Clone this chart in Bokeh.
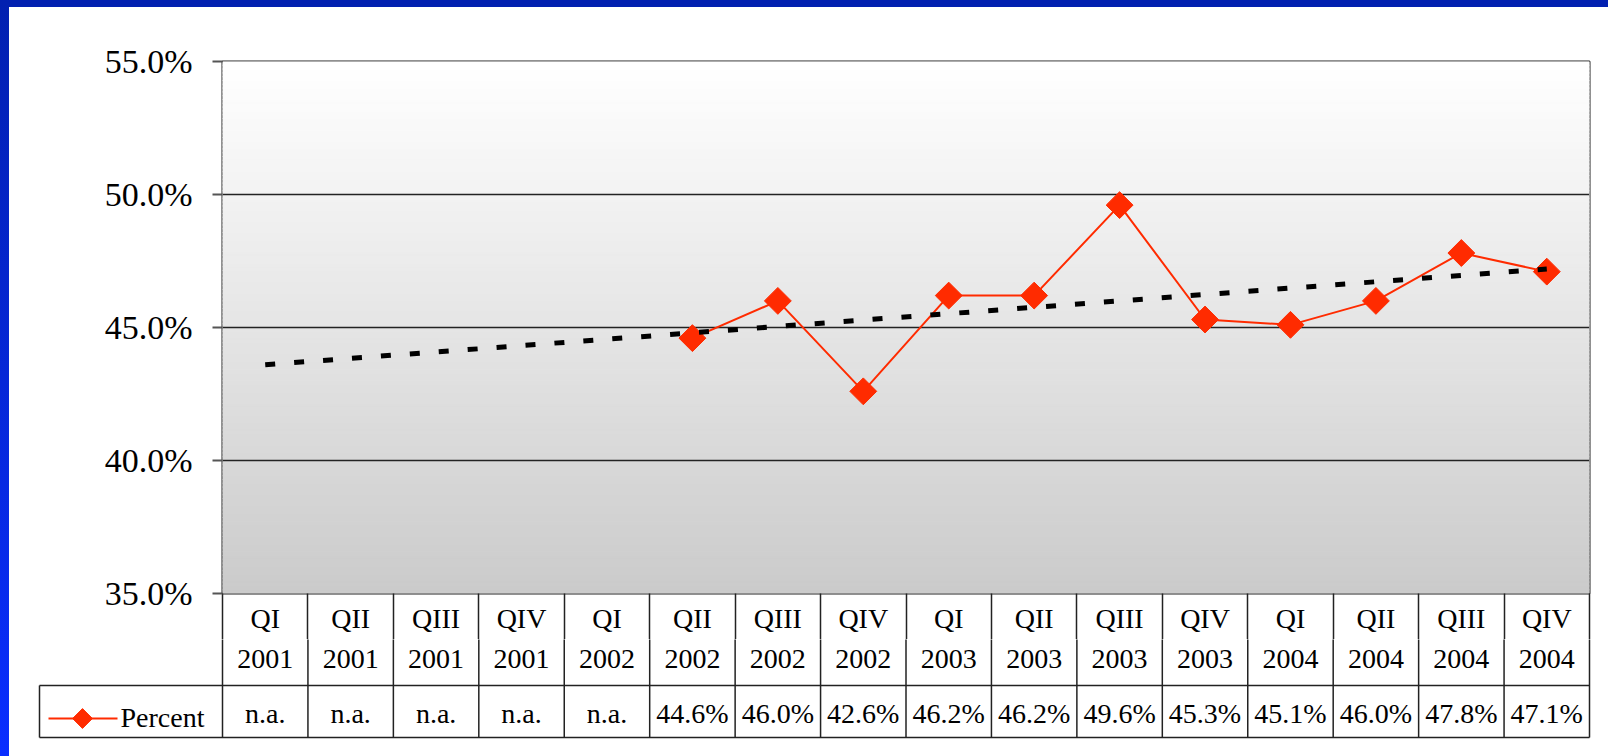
import numpy as np
from bokeh.plotting import figure
from bokeh.models import Range1d, PrintfTickFormatter, FixedTicker, Div
from bokeh.layouts import row, column
from bokeh.embed import file_html
from bokeh.resources import INLINE
from bokeh.core.properties import value

# ---------------- data ----------------
quarters = ["QI", "QII", "QIII", "QIV", "QI", "QII", "QIII", "QIV",
            "QI", "QII", "QIII", "QIV", "QI", "QII", "QIII", "QIV"]
years = ["2001", "2001", "2001", "2001", "2002", "2002", "2002", "2002",
         "2003", "2003", "2003", "2003", "2004", "2004", "2004", "2004"]
categories = [f"{q} {y}" for q, y in zip(quarters, years)]
nan = float("nan")
percent = [nan, nan, nan, nan, nan, 44.6, 46.0, 42.6, 46.2, 46.2,
           49.6, 45.3, 45.1, 46.0, 47.8, 47.1]
series_name = "Percent"
trend_x = ["QI 2001", "QIV 2004"]
trend_y = [43.6, 47.2]
y_ticks = [35, 40, 45, 50, 55]
value_labels = ["n.a." if np.isnan(v) else f"{v:.1f}%" for v in percent]

n = len(categories)
pos = list(range(n))                               # category slot of each quarter
trend_pos = [categories.index(c) for c in trend_x]

# ---------------- style ----------------
FONT = "Liberation Serif"
RED = "#ff2b00"
LINE = "#222222"
FRAME_L, FRAME_R = 222, 1589          # absolute pixel positions of plot frame
FRAME_T, FRAME_B = 61, 593
COLW = (FRAME_R - FRAME_L) / n
LEFT_BAR, TOP_BAR = 9, 7
TOTAL_W, TOTAL_H = 1608, 756
FIG_W = TOTAL_W - LEFT_BAR
STUB = 46                              # part of the table drawn under the chart frame
LABEL_GAP = 9                          # quarter label top, below the frame

# ---------------- chart ----------------
p = figure(width=FIG_W, height=FRAME_B + STUB - TOP_BAR,
           x_range=Range1d(-0.5, n - 0.5),
           y_range=Range1d(y_ticks[0], y_ticks[-1]),
           output_backend="svg", toolbar_location=None,
           min_border_left=FRAME_L - LEFT_BAR, min_border_right=TOTAL_W - FRAME_R,
           min_border_top=FRAME_T - TOP_BAR, min_border_bottom=STUB)
p.background_fill_color = "white"
p.border_fill_color = "white"
p.outline_line_color = LINE
p.outline_line_width = 2
p.xgrid.visible = False

# x axis: quarter names at the slot centres; minor ticks at the slot
# boundaries start the data table's column lines
xax = p.xaxis[0]
xax.ticker = FixedTicker(ticks=pos, minor_ticks=[i - 0.5 for i in range(n + 1)])
xax.major_label_overrides = {i: q for i, q in zip(pos, quarters)}
xax.major_tick_out = 0
xax.major_tick_in = 0
xax.major_tick_line_color = None
xax.minor_tick_out = STUB
xax.minor_tick_in = 0
xax.minor_tick_line_color = LINE
xax.minor_tick_line_width = 1.5
xax.axis_line_color = None
xax.major_label_text_font = FONT
xax.major_label_text_font_size = "28px"
xax.major_label_text_color = "black"
xax.major_label_standoff = LABEL_GAP - STUB

yax = p.yaxis[0]
yax.ticker = FixedTicker(ticks=y_ticks)
yax.formatter = PrintfTickFormatter(format="%.1f%%")
yax.major_label_text_font = FONT
yax.major_label_text_font_size = "34px"
yax.major_label_text_color = "black"
yax.axis_line_color = None
yax.major_tick_out = 10
yax.major_tick_in = 0
yax.major_tick_line_color = "#555555"
yax.major_tick_line_width = 2
yax.minor_tick_line_color = None
yax.major_label_standoff = 20

p.ygrid.ticker = FixedTicker(ticks=y_ticks[1:-1])
p.ygrid.grid_line_color = LINE
p.ygrid.grid_line_width = 1.5

# vertical gradient background (white -> light gray)
N = 140
ys = np.linspace(y_ticks[0], y_ticks[-1], N + 1)
shades = np.linspace(203, 255, N).round().astype(int)
cols = [f"#{s:02x}{s:02x}{s:02x}" for s in shades]
p.quad(left=-0.5, right=n - 0.5, bottom=ys[:-1], top=ys[1:],
       fill_color=cols, line_color=cols, line_width=1, level="image")

p.line(pos, percent, color=RED, line_width=2)
p.scatter(pos, percent, marker="square", angle=np.pi / 4, size=19,
          fill_color=RED, line_color=RED)
p.line(trend_pos, trend_y, color="black", line_width=5, line_dash="10 19")

# ---------------- data table ----------------
def px(a):  # absolute pixel x -> slot coordinate
    return (a - FRAME_L) / COLW - 0.5

TB_H = TOTAL_H - FRAME_B - STUB
t = figure(width=FIG_W, height=TB_H,
           x_range=Range1d(px(LEFT_BAR), px(TOTAL_W)),
           y_range=Range1d(TOTAL_H - FRAME_B, STUB),   # pixels below the frame, downward
           output_backend="svg", toolbar_location=None, min_border=0)
if "frame_align" in t.properties():
    t.frame_align = False
    p.frame_align = False
t.axis.visible = False
t.grid.visible = False
t.outline_line_color = None
t.background_fill_color = "white"
t.border_fill_color = "white"

bounds = [i - 0.5 for i in range(n + 1)]
ROW1, ROW2 = 92, 144
t.segment(x0=bounds, y0=[STUB - 2] * len(bounds), x1=bounds, y1=[ROW2] * len(bounds),
          line_color=LINE, line_width=1.5)
xl = px(39)
t.segment(x0=[xl, xl, xl], y0=[ROW1, ROW2, ROW1], x1=[n - 0.5, n - 0.5, xl],
          y1=[ROW1, ROW2, ROW2], line_color=LINE, line_width=1.5)

t.text(x=pos, y=[65] * n, text=years, text_font=value(FONT), text_font_size="28px",
       text_align="center", text_baseline="alphabetic", text_color="black")
t.text(x=pos, y=[120] * n, text=value_labels, text_font=value(FONT), text_font_size="28px",
       text_align="center", text_baseline="alphabetic", text_color="black")

# legend key inside table
t.line([px(48), px(117)], [125, 125], color=RED, line_width=2)
t.scatter([px(82)], [125], marker="square", angle=np.pi / 4, size=14,
          fill_color=RED, line_color=RED)
t.text(x=[px(120)], y=[124], text=[series_name], text_font=value(FONT),
       text_font_size="28px", text_align="left", text_baseline="alphabetic",
       text_color="black")

# ---------------- frame ----------------
left_bar = Div(width=LEFT_BAR, height=TOTAL_H, margin=0,
               styles={"background": "linear-gradient(to bottom, #0220b0, #0a2eff)"})
top_bar = Div(width=FIG_W, height=TOP_BAR, margin=0, styles={"background": "#0220b0"})

layout = row(left_bar, column(top_bar, p, t, spacing=0), spacing=0)

open("out.html", "w").write(file_html(layout, INLINE))
